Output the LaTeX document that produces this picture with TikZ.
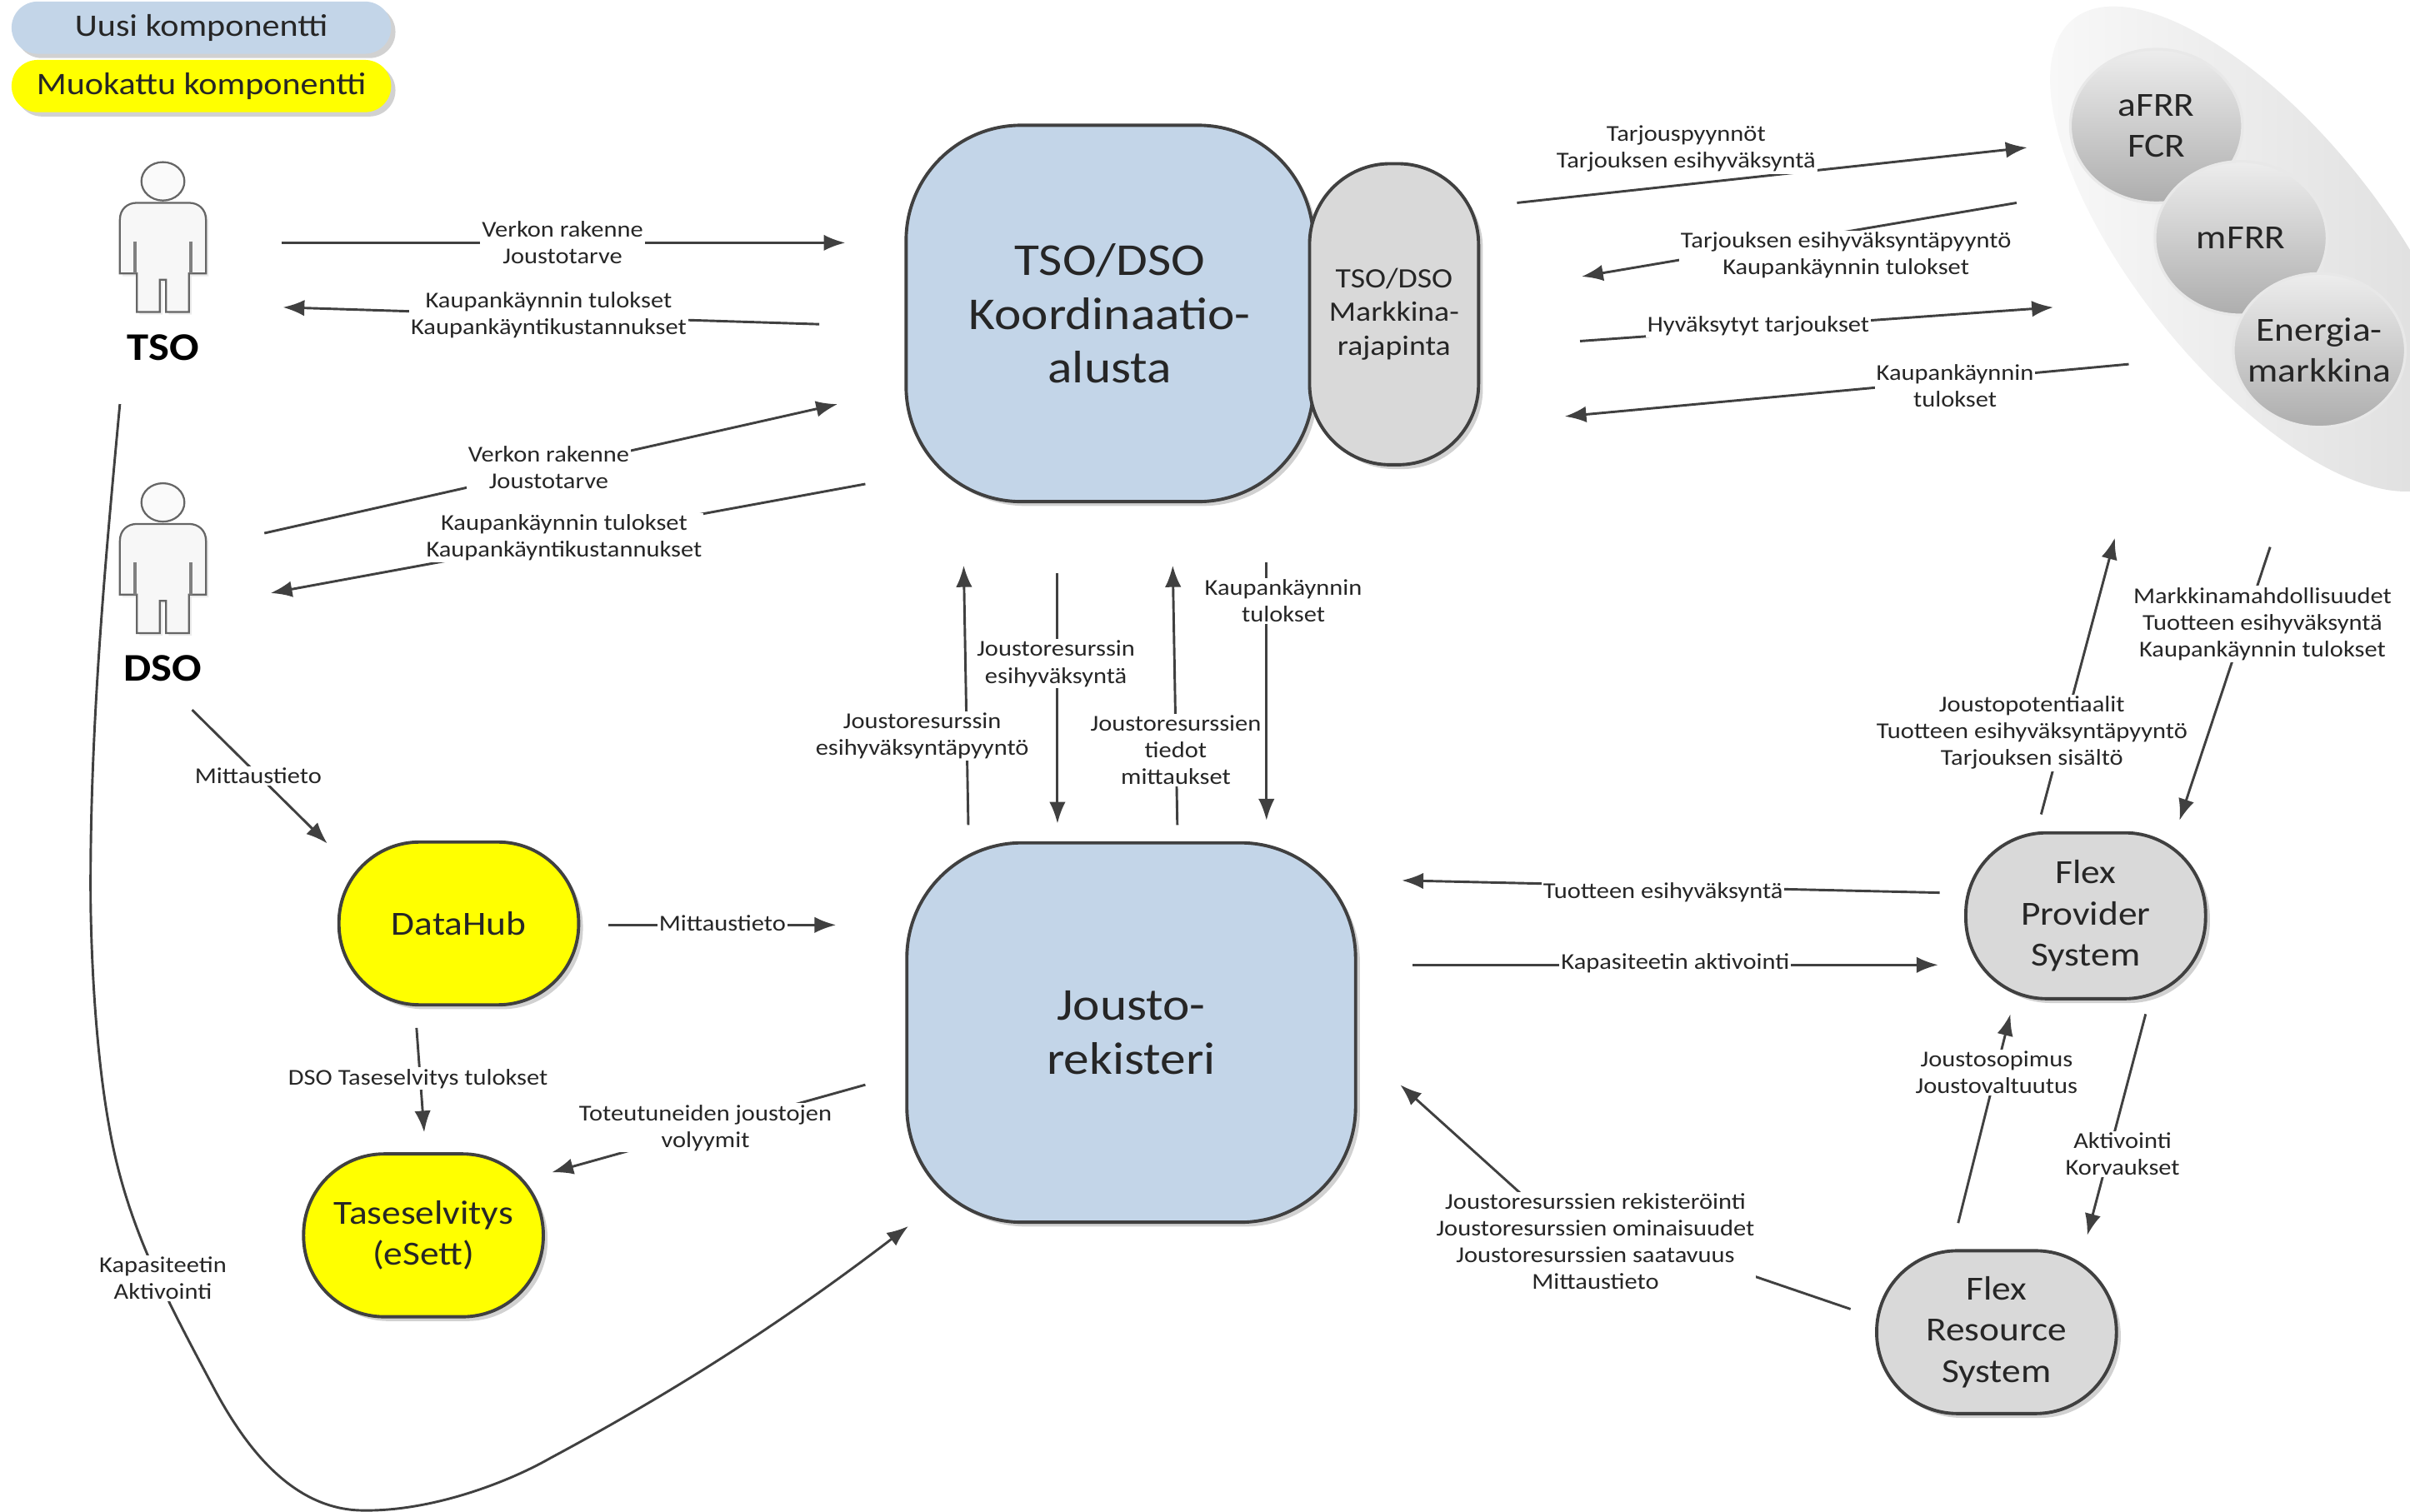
\documentclass[tikz,border=0pt]{standalone}
\usepackage{fontspec}
\setmainfont[FakeStretch=1.12]{Carlito}
\usetikzlibrary{arrows.meta,shadows,shapes.geometric}
\definecolor{inkc}{HTML}{404040}
\definecolor{bluec}{HTML}{C3D5E8}
\definecolor{yelc}{HTML}{FFFF00}
\definecolor{grayc}{HTML}{D9D9D9}
\definecolor{txtc}{HTML}{262626}
\newcommand{\smallf}{\fontsize{8.4}{9.9}\selectfont}
\newcommand{\midf}{\fontsize{12.5}{15.2}\selectfont}
\newcommand{\bigf}{\fontsize{16.9}{20}\selectfont}
\tikzset{
  softshadow/.style={drop shadow={shadow xshift=1.6pt,shadow yshift=-1.6pt,fill=black,opacity=.18}},
  conn/.style={draw=inkc,line width=0.9pt,-{Latex[length=8pt,width=6pt]}},
  lbl/.style={fill=white,inner sep=0.6pt,align=center,font=\smallf,text=txtc},
  bigbox/.style={draw=inkc,line width=1.2pt,fill=bluec,rounded corners=1.5cm,align=center,font=\bigf,text=txtc,softshadow},
  pill/.style={draw=inkc,line width=1.2pt,rounded corners=1.05cm,align=center,font=\midf,text=txtc,softshadow},
  legendbox/.style={rounded corners=0.34cm,minimum width=4.94cm,minimum height=0.68cm,align=center,font=\fontsize{11.6}{13}\selectfont,text=txtc,softshadow},
  market/.style={ellipse,inner sep=-10pt,minimum width=2.24cm,minimum height=2cm,align=center,font=\midf,text=txtc,top color=black!7,bottom color=black!32,draw=black!9,line width=1pt},
  actor/.style={font=\fontsize{14.5}{16}\selectfont\bfseries,text=black},
  person/.pic={
    \draw[draw=black!60,fill=black!3,line width=0.7pt,drop shadow={shadow xshift=1pt,shadow yshift=-1pt,opacity=.15}]
      (-28,25) -- (-28,60) -- (-17,60) -- (-17,85) -- (-2,85) -- (-2,64) -- (2,64) -- (2,85) -- (17,85) -- (17,60) -- (28,60) -- (28,25)
      .. controls (28,18) and (23,14) .. (17,14) -- (-17,14) .. controls (-23,14) and (-28,18) .. (-28,25) -- cycle;
    \draw[draw=black!60,fill=black!2,line width=0.7pt] (0,0) ellipse (14 and 12.5);
    \draw[draw=black!50,line width=1.3pt] (-18,39) -- (-18,60) (18,39) -- (18,60);
  }
}
\begin{document}
\begin{tikzpicture}[x=0.02cm,y=-0.02cm]
\useasboundingbox (0,0) rectangle (1568,984);
\clip (0,0) rectangle (1568,984);

% legend
\node[legendbox,fill=bluec] (leg1) at (131,18) {Uusi komponentti};
\node[legendbox,fill=yelc] (leg2) at (131,56) {Muokattu komponentti};

% market group
\node[ellipse,left color=black!2,right color=black!14,inner sep=0pt,minimum width=7.7cm,minimum height=3.2cm,rotate=-51] (mgroup) at (1470,162) {};
\node[market] (afrr) at (1403,82) {aFRR\\FCR};
\node[market] (mfrr) at (1458,155) {mFRR};
\node[market] (energia) at (1509,228) {Energia-\\markkina};

% actors
\pic at (106,118) {person};
\node[actor] (tso) at (106,226) {TSO};
\pic at (106,327) {person};
\node[actor] (dso) at (106,435) {DSO};

% main boxes
\node[bigbox,minimum width=5.3cm,minimum height=4.9cm] (koord) at (722,204) {TSO/DSO\\Koordinaatio-\\alusta};
\node[pill,fill=grayc,minimum width=2.2cm,minimum height=3.92cm,font=\fontsize{10.4}{12.6}\selectfont] (rajap) at (907,204.5) {TSO/DSO\\Markkina-\\rajapinta};
\node[bigbox,minimum width=5.84cm,minimum height=4.94cm] (jousto) at (736,672) {Jousto-\\rekisteri};
\node[pill,fill=yelc,minimum width=3.12cm,minimum height=2.12cm] (datahub) at (298.5,601) {DataHub};
\node[pill,fill=yelc,minimum width=3.12cm,minimum height=2.12cm] (tase) at (275.5,804) {Taseselvitys\\(eSett)};
\node[pill,fill=grayc,minimum width=3.12cm,minimum height=2.16cm] (fps) at (1357,596) {Flex\\Provider\\System};
\node[pill,fill=grayc,minimum width=3.12cm,minimum height=2.12cm] (frs) at (1299,867) {Flex\\Resource\\System};

% connectors
\coordinate (a1) at (183,158); \coordinate (b1) at (550,158);
\draw[conn] (a1) -- (b1);
\node[lbl] (l1) at (366,158) {Verkon rakenne\\Joustotarve};

\coordinate (a2) at (533,211); \coordinate (b2) at (184,200);
\draw[conn] (a2) -- (b2);
\node[lbl] (l2) at (357,205) {Kaupankäynnin tulokset\\Kaupankäyntikustannukset};

\coordinate (a3) at (172,347); \coordinate (b3) at (545,263);
\draw[conn] (a3) -- (b3);
\node[lbl] (l3) at (357,304) {Verkon rakenne\\Joustotarve};

\coordinate (a4) at (563,315); \coordinate (b4) at (176,386);
\draw[conn] (a4) -- (b4);
\node[lbl] (l4) at (367,350) {Kaupankäynnin tulokset\\Kaupankäyntikustannukset};

\coordinate (a5) at (987,132); \coordinate (b5) at (1319,96);
\draw[conn] (a5) -- (b5);
\node[lbl] (l5) at (1097,97) {Tarjouspyynnöt\\Tarjouksen esihyväksyntä};

\coordinate (a6) at (1312,132); \coordinate (b6) at (1029,180);
\draw[conn] (a6) -- (b6);
\node[lbl] (l6) at (1201,166) {Tarjouksen esihyväksyntäpyyntö\\Kaupankäynnin tulokset};

\coordinate (a7) at (1028,222); \coordinate (b7) at (1336,200);
\draw[conn] (a7) -- (b7);
\node[lbl] (l7) at (1144,212) {Hyväksytyt tarjoukset};

\coordinate (a8) at (1385,237); \coordinate (b8) at (1018,271);
\draw[conn] (a8) -- (b8);
\node[lbl] (l8) at (1272,251) {Kaupankäynnin\\tulokset};

\coordinate (a9) at (125,462); \coordinate (b9) at (213,549);
\draw[conn] (a9) -- (b9);
\node[lbl] (l9) at (168,505) {Mittaustieto};

\coordinate (a10) at (396,602); \coordinate (b10) at (544,602);
\draw[conn] (a10) -- (b10);
\node[lbl] (l10) at (470,601) {Mittaustieto};

\coordinate (a11) at (271,669); \coordinate (b11) at (276,737);
\draw[conn] (a11) -- (b11);
\node[lbl] (l11) at (272,702) {DSO Taseselvitys tulokset};

\coordinate (a12) at (563,706); \coordinate (b12) at (359,763);
\draw[conn] (a12) -- (b12);
\node[lbl] (l12) at (459,734) {Toteutuneiden joustojen\\volyymit};

\coordinate (a13) at (78,263); \coordinate (b13) at (591,798);
\draw[conn] (a13) .. controls (68,370) and (58,480) .. (59,590) .. controls (60,650) and (65,700) .. (71,733) .. controls (82,797) and (108,845) .. (140,905) .. controls (160,942) and (190,982) .. (235,983) .. controls (280,984) and (330,965) .. (358,949) .. controls (440,905) and (510,860) .. (b13);
\node[lbl] (l13) at (106,832) {Kapasiteetin\\Aktivointi};

\coordinate (a14) at (630,537); \coordinate (b14) at (627,368);
\draw[conn] (a14) -- (b14);
\node[lbl] (l14) at (600,479) {Joustoresurssin\\esihyväksyntäpyyntö};

\coordinate (a15) at (688,373); \coordinate (b15) at (688,536);
\draw[conn] (a15) -- (b15);
\node[lbl] (l15) at (687,432) {Joustoresurssin\\esihyväksyntä};

\coordinate (a16) at (766,537); \coordinate (b16) at (763,368);
\draw[conn] (a16) -- (b16);
\node[lbl] (l16) at (765,488) {Joustoresurssien\\tiedot\\mittaukset};

\coordinate (a17) at (824,366); \coordinate (b17) at (824,534);
\draw[conn] (a17) -- (b17);
\node[lbl] (l17) at (835,391) {Kaupankäynnin\\tulokset};

\coordinate (a18) at (1262,581); \coordinate (b18) at (912,573);
\draw[conn] (a18) -- (b18);
\node[lbl] (l18) at (1082,581) {Tuotteen esihyväksyntä};

\coordinate (a19) at (919,628); \coordinate (b19) at (1261,628);
\draw[conn] (a19) -- (b19);
\node[lbl] (l19) at (1090,627) {Kapasiteetin aktivointi};

\coordinate (a20) at (1204,852); \coordinate (k20) at (993,780); \coordinate (b20) at (911,706);
\draw[conn] (a20) -- (k20) -- (b20);
\node[lbl] (l20) at (1038,808) {Joustoresurssien rekisteröinti\\Joustoresurssien ominaisuudet\\Joustoresurssien saatavuus\\Mittaustieto};

\coordinate (a21) at (1274,796); \coordinate (b21) at (1308,660);
\draw[conn] (a21) -- (b21);
\node[lbl] (l21) at (1299,698) {Joustosopimus\\Joustovaltuutus};

\coordinate (a22) at (1396,660); \coordinate (b22) at (1358,804);
\draw[conn] (a22) -- (b22);
\node[lbl] (l22) at (1381,751) {Aktivointi\\Korvaukset};

\coordinate (a23) at (1328,530); \coordinate (b23) at (1376,350);
\draw[conn] (a23) -- (b23);
\node[lbl] (l23) at (1322,477) {Joustopotentiaalit\\Tuotteen esihyväksyntäpyyntö\\Tarjouksen sisältö};

\coordinate (a24) at (1477,356); \coordinate (b24) at (1418,534);
\draw[conn] (a24) -- (b24);
\node[lbl] (l24) at (1472,406) {Markkinamahdollisuudet\\Tuotteen esihyväksyntä\\Kaupankäynnin tulokset};
\end{tikzpicture}
\end{document}
